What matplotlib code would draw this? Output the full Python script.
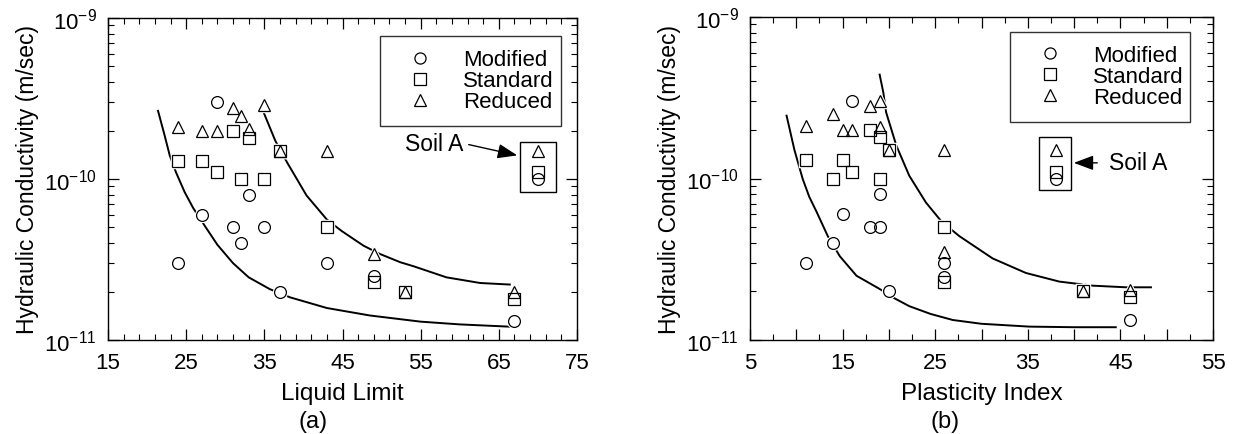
import numpy as np
import matplotlib
matplotlib.use("Agg")
import matplotlib.pyplot as plt
from matplotlib.ticker import FixedLocator, MultipleLocator, FuncFormatter, NullFormatter
from matplotlib.patches import Rectangle
from matplotlib.lines import Line2D

plt.rcParams['font.family'] = ['Liberation Sans', 'DejaVu Sans']
plt.rcParams['mathtext.fontset'] = 'custom'
plt.rcParams['mathtext.rm'] = 'Liberation Sans'

# ---- (a) Liquid Limit ----
ll_mod_x = [24, 27, 29, 31, 32, 33, 35, 37, 43, 49, 67, 70]
ll_mod_k = [3e-11, 6e-11, 3e-10, 5e-11, 4e-11, 8e-11, 5e-11, 2e-11, 3e-11, 2.5e-11, 1.32e-11, 1e-10]
ll_std_x = [24, 27, 29, 31, 32, 33, 35, 37, 43, 49, 53, 67, 70]
ll_std_k = [1.3e-10, 1.3e-10, 1.1e-10, 2e-10, 1e-10, 1.8e-10, 1e-10, 1.5e-10, 5e-11, 2.3e-11, 2e-11, 1.8e-11, 1.1e-10]
ll_red_x = [24, 27, 29, 31, 32, 33, 35, 37, 43, 49, 53, 67, 70]
ll_red_k = [2.1e-10, 2e-10, 2e-10, 2.75e-10, 2.45e-10, 2.05e-10, 2.9e-10, 1.5e-10, 1.5e-10, 3.4e-11, 2e-11, 2e-11, 1.5e-10]

ll_low_x = [21.4, 22.2, 22.9, 23.7, 24.8, 25.9, 27.4, 29.0, 31.0, 33.0, 35.7, 38.3, 43.0, 48.5, 55.0, 60.0, 66.4]
ll_low_k = [2.65e-10, 1.9e-10, 1.4e-10, 1.1e-10, 8.3e-11, 6.6e-11, 5.1e-11, 3.9e-11, 3.0e-11, 2.45e-11,
            2.07e-11, 1.84e-11, 1.58e-11, 1.42e-11, 1.3e-11, 1.25e-11, 1.21e-11]
ll_up_x = [34.9, 36.4, 37.9, 40.4, 43.0, 44.9, 47.7, 49.8, 52.4, 54.1, 58.3, 62.6, 66.4]
ll_up_k = [2.6e-10, 1.73e-10, 1.27e-10, 7.9e-11, 5.6e-11, 4.75e-11, 3.85e-11, 3.42e-11, 3.04e-11, 2.87e-11,
           2.45e-11, 2.26e-11, 2.21e-11]

# ---- (b) Plasticity Index ----
pi_mod_x = [11, 14, 15, 16, 18, 19, 19, 20, 26, 26, 46, 38]
pi_mod_k = [3e-11, 4e-11, 6e-11, 3e-10, 5e-11, 5e-11, 8e-11, 2e-11, 3e-11, 2.45e-11, 1.33e-11, 1e-10]
pi_std_x = [11, 14, 15, 16, 18, 19, 19, 20, 26, 26, 41, 46, 38]
pi_std_k = [1.3e-10, 1e-10, 1.3e-10, 1.1e-10, 2e-10, 1.8e-10, 1e-10, 1.5e-10, 5e-11, 2.3e-11, 2e-11, 1.85e-11, 1.1e-10]
pi_red_x = [11, 14, 15, 16, 18, 19, 19, 20, 26, 26, 41, 46, 38]
pi_red_k = [2.1e-10, 2.5e-10, 2e-10, 2e-10, 2.8e-10, 3e-10, 2.07e-10, 1.5e-10, 1.5e-10, 3.5e-11, 2e-11, 2.05e-11, 1.5e-10]

pi_low_x = [8.95, 9.8, 10.7, 11.4, 12.2, 13.4, 14.7, 16.5, 19.0, 20.7, 22.2, 24.5, 26.9, 30.0, 35.2, 40.0, 44.5]
pi_low_k = [2.45e-10, 1.5e-10, 9.9e-11, 7.7e-11, 6.2e-11, 4.4e-11, 3.3e-11, 2.5e-11, 2.07e-11, 1.8e-11, 1.62e-11,
            1.45e-11, 1.33e-11, 1.26e-11, 1.21e-11, 1.2e-11, 1.2e-11]
pi_up_x = [19.0, 19.4, 19.7, 20.8, 22.2, 24.0, 25.7, 27.6, 31.2, 34.8, 38.4, 42.0, 45.6, 48.3]
pi_up_k = [4.4e-10, 3.4e-10, 2.57e-10, 1.6e-10, 1.04e-10, 7.1e-11, 5.4e-11, 4.4e-11, 3.2e-11, 2.6e-11,
           2.3e-11, 2.17e-11, 2.12e-11, 2.12e-11]

k_major = [1e-11, 1e-10, 1e-9]
k_minor = [m * d for d in (1e-11, 1e-10) for m in range(2, 10)]

fig = plt.figure(figsize=(12.39, 4.35), dpi=100)
ax1 = fig.add_axes([108/1239, 94/435, 469/1239, 322/435])
ax2 = fig.add_axes([750/1239, 94/435, 463/1239, 323/435])

def draw(ax, mod, std, red, low, up):
    ax.plot(low[0], low[1], color='black', lw=1.4, zorder=2)
    ax.plot(up[0], up[1], color='black', lw=1.4, zorder=2)
    for (xs, ks), m in zip([mod, std, red], ['o', 's', '^']):
        ax.plot(xs, ks, ls='none', marker=m, ms=8.5, mfc='white', mec='white', mew=2.5, zorder=3)
    for (xs, ks), m in zip([mod, std, red], ['o', 's', '^']):
        ax.plot(xs, ks, ls='none', marker=m, ms=8.5, mfc='none', mec='black', mew=0.9, zorder=4)

draw(ax1, (ll_mod_x, ll_mod_k), (ll_std_x, ll_std_k), (ll_red_x, ll_red_k),
     (ll_low_x, ll_low_k), (ll_up_x, ll_up_k))
draw(ax2, (pi_mod_x, pi_mod_k), (pi_std_x, pi_std_k), (pi_red_x, pi_red_k),
     (pi_low_x, pi_low_k), (pi_up_x, pi_up_k))

for ax in (ax1, ax2):
    ax.set_yscale('log')
    ax.set_ylim(1e-11, 1e-9)
    ax.yaxis.set_major_locator(FixedLocator(k_major))
    ax.yaxis.set_minor_locator(FixedLocator(k_minor))
    ax.yaxis.set_minor_formatter(NullFormatter())
    ax.tick_params(which='both', direction='in', top=True, right=True, labelsize=16)
    ax.tick_params(which='major', length=8, width=0.9)
    ax.tick_params(which='minor', length=4.5, width=0.8)
    ax.tick_params(axis='x', pad=9)
    ax.tick_params(axis='y', pad=8)
    for s in ax.spines.values():
        s.set_linewidth(1.0)
    ax.set_ylabel('Hydraulic Conductivity (m/sec)', fontsize=16.5, labelpad=4)

ax1.set_xlim(15, 75)
ax1.xaxis.set_major_locator(FixedLocator(np.arange(15, 76, 10)))
ax1.xaxis.set_minor_locator(FixedLocator(np.arange(15, 76, 2)))
ax1.set_xlabel('Liquid Limit', fontsize=17.5, labelpad=6)

ax2.set_xlim(5, 55)
ax2.xaxis.set_major_locator(MultipleLocator(5))
ax2.xaxis.set_minor_locator(MultipleLocator(2.5))
ax2.xaxis.set_major_formatter(FuncFormatter(lambda v, p: '%d' % v if int(round(v)) % 10 == 5 else ''))
ax2.set_xlabel('Plasticity Index', fontsize=17.5, labelpad=6)

handles = [Line2D([], [], ls='none', marker=m, ms=8, mfc='none', mec='black', mew=0.9) for m in ['o', 's', '^']]
names = ['Modified', 'Standard', 'Reduced']
for ax, box in ((ax1, (0.58, 0.689, 0.386, 0.255)), (ax2, (0.5616, 0.70, 0.389, 0.254))):
    leg = ax.legend(handles, names, loc='upper left', bbox_to_anchor=box, mode='expand', fontsize=16,
                    frameon=True, fancybox=False, edgecolor='black', handlelength=2.4,
                    handletextpad=0.75, labelspacing=0.0, borderpad=0.6, borderaxespad=0)
    leg.get_frame().set_linewidth(1.0)
    leg.set_zorder(5)

# Soil A annotations
ax1.add_patch(Rectangle((67.7, 8.34e-11), 4.6, 1.705e-10 - 8.34e-11, fill=False, ec='black', lw=1.0, zorder=5))
ax1.text(60.4, 1.65e-10, 'Soil A', ha='right', va='center', fontsize=16.5)
ax1.annotate('', xy=(67.7, 1.39e-10), xytext=(60.8, 1.65e-10),
             arrowprops=dict(arrowstyle='-|>,head_length=1.2,head_width=0.45', color='black', lw=1.0))

ax2.add_patch(Rectangle((36.25, 8.53e-11), 3.42, 1.8e-10 - 8.53e-11, fill=False, ec='black', lw=1.0, zorder=5))
ax2.text(43.8, 1.25e-10, 'Soil A', ha='left', va='center', fontsize=16.5)
ax2.annotate('', xy=(39.67, 1.25e-10), xytext=(42.8, 1.25e-10),
             arrowprops=dict(arrowstyle='-|>,head_length=1.2,head_width=0.45', color='black', lw=1.0))

ax1.text(0.437, -0.252, '(a)', transform=ax1.transAxes, ha='center', va='center', fontsize=17)
ax2.text(0.421, -0.252, '(b)', transform=ax2.transAxes, ha='center', va='center', fontsize=17)

fig.savefig('out.png', dpi=100)
